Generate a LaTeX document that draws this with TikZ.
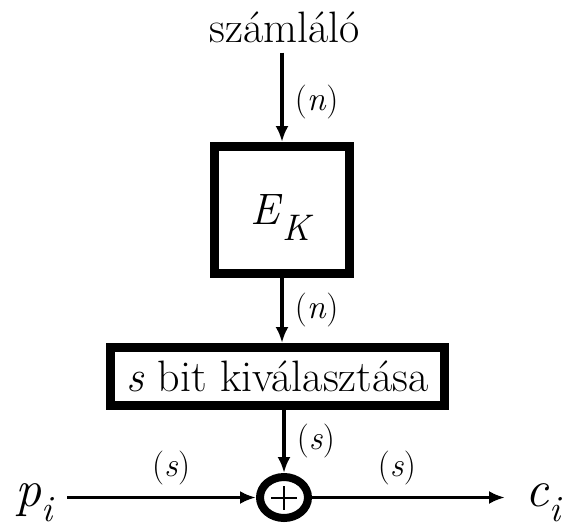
\documentclass[tikz,border=0pt]{standalone}
\usetikzlibrary{arrows.meta, shapes.geometric}

\tikzset{
  bigtext/.style={font=\fontsize{44}{52}\selectfont},
  iotext/.style={font=\fontsize{52}{60}\selectfont, anchor=base west, inner ysep=0pt},
  bitlabel/.style={font=\fontsize{34}{40}\selectfont, inner sep=11pt},
  block/.style={draw, line width=9pt, inner sep=0pt, bigtext},
  flow/.style={line width=3.5pt, -{Latex[length=16pt, width=13pt]}},
}
\newcommand{\lowsub}[2][16pt]{\raisebox{-#1}{\fontsize{37}{40}\selectfont\textit{#2}}}

\begin{document}
\begin{tikzpicture}[x=1pt, y=-1pt]
  \useasboundingbox (0,0) rectangle (562,530);
  % blocks
  \node[bigtext, anchor=base, inner sep=10pt] (cnt) at (285,42) {számláló};
  \node[block, minimum width=135pt, minimum height=127pt,
        text height=29pt, text depth=0pt] (enc) at (282,210) {\textit{E}\lowsub{K}};
  \node[block, minimum width=334pt, minimum height=58pt] (sel) at (277.5,376.5) {\textit{s} bit kiválasztása};
  \node[draw, ellipse, line width=8pt, minimum width=48pt, minimum height=41pt, inner sep=0pt,
        path picture={
          \draw[line width=2pt] ([xshift=-13pt]path picture bounding box.center) -- ([xshift=13pt]path picture bounding box.center);
          \draw[line width=2pt] ([yshift=-12pt]path picture bounding box.center) -- ([yshift=12pt]path picture bounding box.center);
        }] (xor) at (284,497.5) {};
  \node[iotext, inner xsep=13pt] (pin) at (2,506) {\textit{p}\lowsub[15pt]{i}};
  \node[iotext, inner xsep=20pt] (cout) at (505,506) {\textit{c}\lowsub[15pt]{i}};
  % connectors
  \draw[flow] (cnt.south -| enc.north) -- node[bitlabel, right, pos=0.55] {(\textit{n})} (enc.north);
  \draw[flow] (enc.south) -- node[bitlabel, right] {(\textit{n})} (enc.south |- sel.north);
  \draw[flow] (xor.north |- sel.south) -- node[bitlabel, right] {(\textit{s})} (xor.north);
  \draw[flow] (pin.east |- xor.west) -- node[bitlabel, above, pos=0.55] {(\textit{s})} (xor.west);
  \draw[flow] (xor.east) -- node[bitlabel, above, pos=0.44] {(\textit{s})} (cout.west |- xor.east);
\end{tikzpicture}
\end{document}
